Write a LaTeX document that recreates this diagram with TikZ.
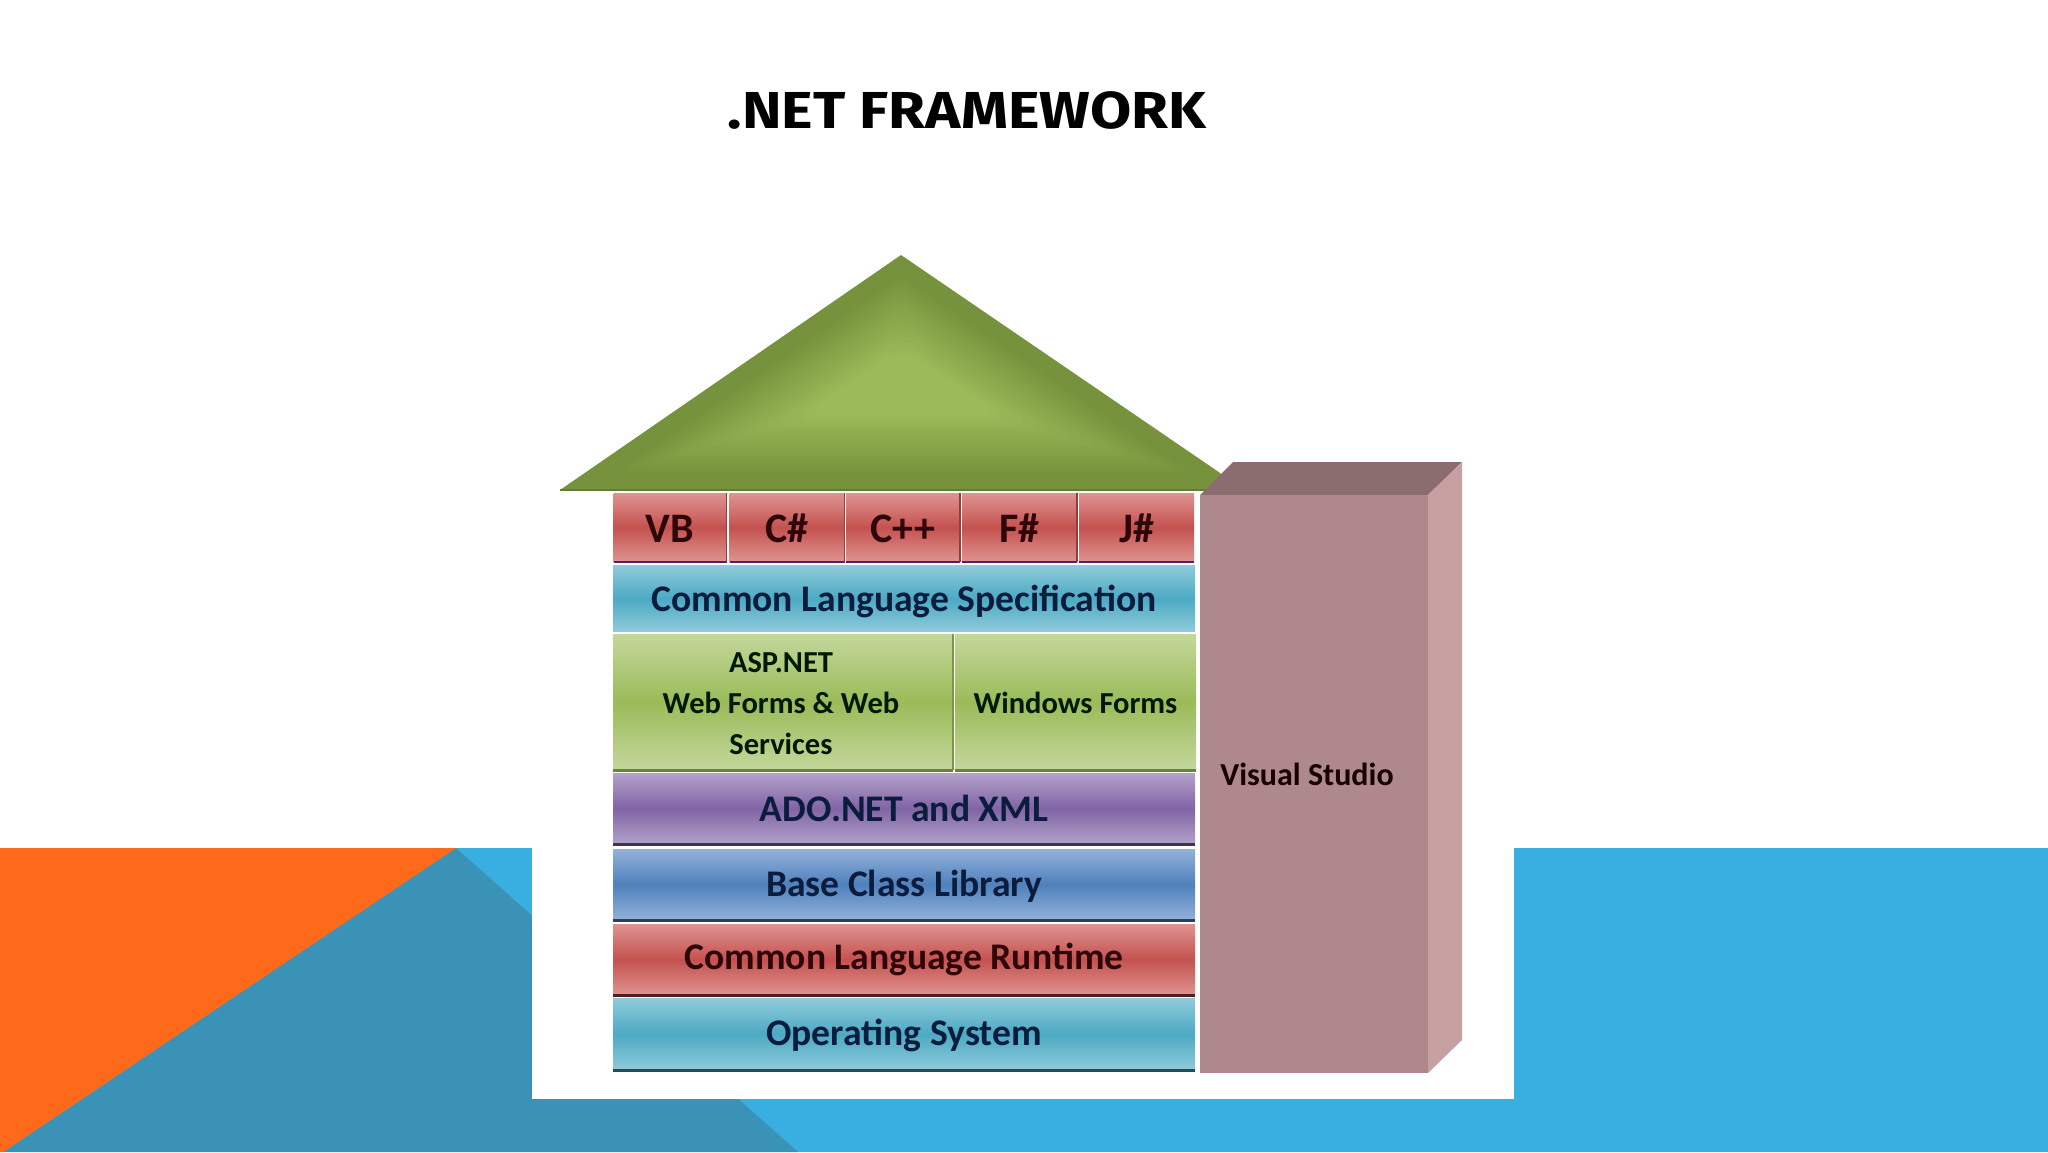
\documentclass[tikz,border=0pt]{standalone}
\usepackage{fontspec}
\setmainfont{Carlito}
\newfontfamily\titlefont[FakeStretch=1.15]{Fira Sans}
\usetikzlibrary{calc}
\definecolor{bgblue}{HTML}{38AFE0}
\definecolor{bgteal}{HTML}{3A93B6}
\definecolor{bgorange}{HTML}{FE6A1A}
\definecolor{roofdark}{HTML}{76923C}
\definecolor{rooflight}{HTML}{9BBB59}
\definecolor{vsfront}{HTML}{AF888C}
\definecolor{vstop}{HTML}{8B6D6F}
\definecolor{vsside}{HTML}{C7A0A2}
\definecolor{redl}{HTML}{DF9492}\definecolor{redm}{HTML}{C4524F}
\definecolor{tealL}{HTML}{8FCBDA}\definecolor{tealm}{HTML}{4CA9C4}
\definecolor{greenl}{HTML}{C4D79C}\definecolor{greenm}{HTML}{9BBB59}
\definecolor{purl}{HTML}{B3A2C9}\definecolor{purm}{HTML}{8064A5}
\definecolor{blul}{HTML}{93B2D8}\definecolor{blum}{HTML}{4F81BD}
\definecolor{navytext}{HTML}{0C1C3C}
\definecolor{redtext}{HTML}{2E0508}
\tikzset{
  bandbox/.style={rectangle,inner sep=0pt,outer sep=0pt},
  redband/.style={bandbox,top color=redl,bottom color=redl,middle color=redm},
  tealband/.style={bandbox,top color=tealL,bottom color=tealL,middle color=tealm},
  greenband/.style={bandbox,top color=greenl,bottom color=greenl,middle color=greenm},
  purband/.style={bandbox,top color=purl,bottom color=purl,middle color=purm},
  bluband/.style={bandbox,top color=blul,bottom color=blul,middle color=blum},
  basetext/.style={anchor=base,inner sep=0pt,font=\fontsize{37.6}{38}\bfseries\selectfont},
  navylabel/.style={basetext,text=navytext},
  redlabel/.style={basetext,text=redtext},
  langlabel/.style={redlabel,font=\fontsize{42}{42}\bfseries\selectfont},
  greenlabel/.style={basetext,text=black!90!green,font=\fontsize{30.5}{31}\bfseries\selectfont},
  edgeline/.style={line width=3pt},
  cellline/.style={line width=1.5pt,redm!75!black},
}
\begin{document}
\begin{tikzpicture}[x=1pt,y=-1pt]
\useasboundingbox (0,0) rectangle (2048,1152);
\fill[white] (0,0) rectangle (2048,1152);
% slide background
\fill[bgblue] (0,848) rectangle (2048,1152);
\fill[bgteal] (456,848) -- (798,1152) -- (3,1152) -- cycle;
\fill[bgorange] (0,848) -- (456,848) -- (3,1152) -- (0,1152) -- cycle;
\fill[white] (532,848) rectangle (1514,1099);
\node[font=\titlefont\fontsize{52}{52}\bfseries\selectfont] (title) at (967,110) {.NET FRAMEWORK};
% roof
\coordinate (C) at (901,385);
\coordinate (A) at (901,255);
\coordinate (L) at (560,490);
\coordinate (R) at (1245,490);
\foreach \i in {0,...,30}{
  \pgfmathsetmacro{\s}{1-\i/30*0.96}
  \pgfmathtruncatemacro{\p}{min(100,max(0,(\i-4)*100/18))}
  \fill[rooflight!\p!roofdark,rounded corners=\i*1.2pt]
    ($(C)!\s!(A)$) -- ($(C)!\s!(L)$) -- ($(C)!\s!(R)$) -- cycle;
}
\draw[line width=1.5pt,roofdark!85!black] (L) -- (R);
% Visual Studio block
\fill[vstop] (1233,462) -- (1462,462) -- (1428,495) -- (1200,495) -- cycle;
\fill[vsside] (1428,495) -- (1462,462) -- (1462,1040) -- (1428,1073) -- cycle;
\node[rectangle,inner sep=0pt,fill=vsfront,minimum width=228pt,minimum height=578pt] (vs) at (1314,784) {};
\node[basetext,font=\fontsize{32}{32}\bfseries\selectfont,text=black!90!red] (vslabel) at (1307,785.5) {Visual Studio};
% language row
\node[redband,minimum width=113pt,minimum height=69pt] (vb) at (670,527.5) {};
\node[redband,minimum width=115pt,minimum height=69pt] (cs) at (787,527.5) {};
\node[redband,minimum width=114pt,minimum height=69pt] (cpp) at (903,527.5) {};
\node[redband,minimum width=115pt,minimum height=69pt] (fs) at (1019.5,527.5) {};
\node[redband,minimum width=115pt,minimum height=69pt] (js) at (1136.5,527.5) {};
\foreach \n in {vb,cs,cpp,fs,js}{\draw[line width=2pt,redm!60!blue!70!black] (\n.south west) -- (\n.south east);}
\foreach \n in {vb,cs,cpp,fs}{\draw[cellline] (\n.north east) -- (\n.south east);}
\node[langlabel] (vbt) at (670,542.5) {VB};
\node[langlabel] (cst) at (787,542.5) {C\#};
\node[langlabel] (cppt) at (903,542.5) {C++};
\node[langlabel] (fst) at (1019.5,542.5) {F\#};
\node[langlabel] (jst) at (1136.5,542.5) {J\#};
% bands
\node[tealband,minimum width=582pt,minimum height=66pt] (cls) at (904,598.5) {};
\node[navylabel] (clst) at (904,611.5) {Common Language Specification};
\node[greenband,minimum width=340pt,minimum height=136pt] (asp) at (783,702) {};
\node[greenband,minimum width=241pt,minimum height=136pt] (wf) at (1075.5,702) {};
\draw[line width=1.5pt,greenm!80!black] (asp.north east) -- (asp.south east);
\draw[edgeline,roofdark!90!black] (asp.south west) -- (asp.south east);
\draw[edgeline,roofdark!90!black] (wf.south west) -- (wf.south east);
\node[greenlabel] (aspa) at (781,672) {ASP.NET};
\node[greenlabel] (aspb) at (781,713.5) {Web Forms \& Web};
\node[greenlabel] (aspc) at (781,754) {Services};
\node[greenlabel] (wft) at (1075.5,713.5) {Windows Forms};
\node[purband,minimum width=582pt,minimum height=71pt] (ado) at (904,808.5) {};
\draw[edgeline,purm!50!black] (ado.south west) -- (ado.south east);
\node[navylabel] (adot) at (904,821.5) {ADO.NET and XML};
\node[bluband,minimum width=582pt,minimum height=71pt] (bcl) at (904,884.5) {};
\draw[edgeline,blum!50!black] (bcl.south west) -- (bcl.south east);
\node[navylabel] (bclt) at (904,896.5) {Base Class Library};
\node[redband,minimum width=582pt,minimum height=71pt] (clr) at (904,959.5) {};
\draw[edgeline,redm!40!black] (clr.south west) -- (clr.south east);
\node[redlabel] (clrt) at (904,969.5) {Common Language Runtime};
\node[tealband,minimum width=582pt,minimum height=72pt] (os) at (904,1034) {};
\draw[edgeline,tealm!45!black] (os.south west) -- (os.south east);
\node[navylabel] (ost) at (904,1045) {Operating System};
\end{tikzpicture}
\end{document}
